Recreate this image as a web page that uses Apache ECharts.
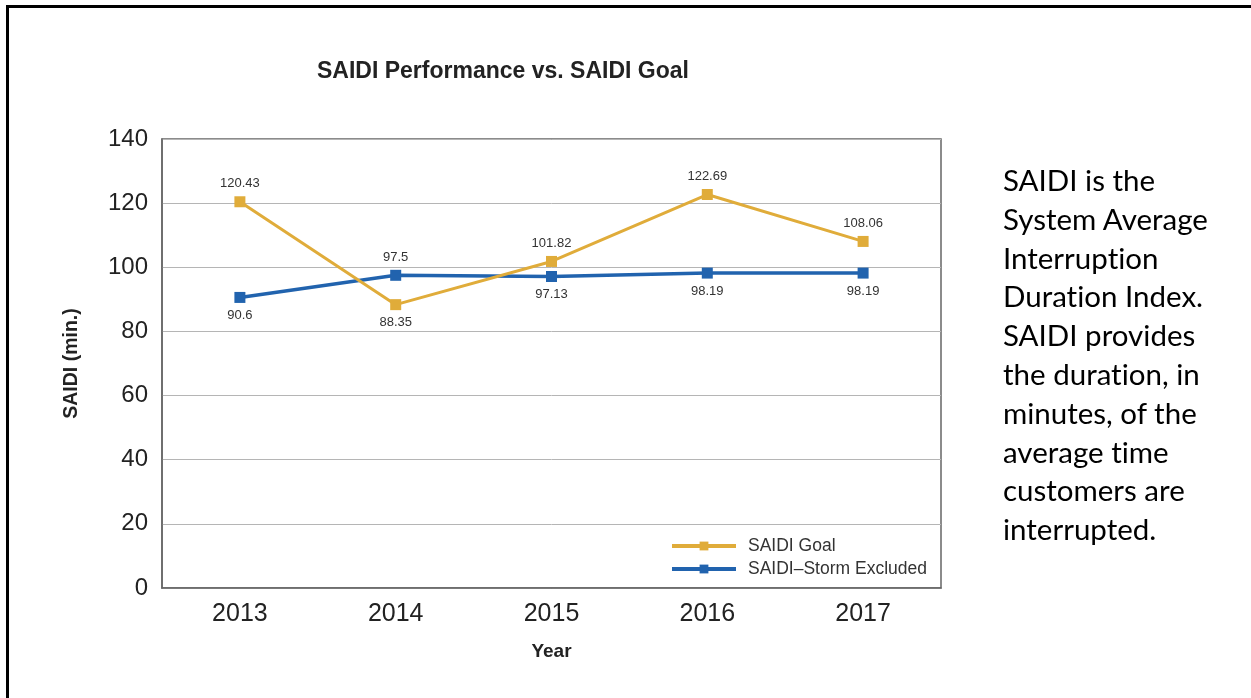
<!DOCTYPE html>
<html>
<head>
<meta charset="utf-8">
<script src="https://cdn.jsdelivr.net/npm/echarts@6/dist/echarts.min.js"></script>
<style>
  html, body { margin: 0; padding: 0; background: #fff; overflow: hidden; }
  #frame { position: absolute; left: 6px; top: 5px; width: 1300px; height: 800px; border: 3px solid #000; }
  #chart { position: absolute; left: 0; top: 0; width: 1251px; height: 698px; }
  #note { position: absolute; left: 1003px; top: 161px; font-family: Lato, 'Open Sans', sans-serif; font-size: 29.5px; line-height: 38.8px; color: #000; font-variant-ligatures: none; }
</style>
</head>
<body>
<div id="frame"></div>
<div id="chart"></div>
<div id="note">SAIDI is the<br>System Average<br>Interruption<br>Duration Index.<br>SAIDI provides<br>the duration, in<br>minutes, of the<br>average time<br>customers are<br>interrupted.</div>
<script>
var years = ['2013', '2014', '2015', '2016', '2017'];
var goalValues = [120.43, 88.35, 101.82, 122.69, 108.06];
var stormExcludedValues = [90.6, 97.5, 97.13, 98.19, 98.19];

var FONT = "'Liberation Sans', Arial, sans-serif";

// label sits above the point when this series is the higher one at that year
function withLabels(vals, other) {
    return vals.map(function (v, i) {
        return { value: v, label: { position: v > other[i] ? 'top' : 'bottom' } };
    });
}

var chart = echarts.init(document.getElementById('chart'));
var option = {
    animation: false,
    title: {
        text: 'SAIDI Performance vs. SAIDI Goal',
        left: 312,
        top: 55,
        textStyle: { fontFamily: FONT, fontSize: 23, fontWeight: 'bold', color: '#222' }
    },
    legend: {
        orient: 'vertical',
        left: 665,
        top: 532,
        itemWidth: 64,
        itemHeight: 11,
        itemGap: 5,
        lineStyle: { width: 4 },
        textStyle: { fontFamily: FONT, fontSize: 17.5, color: '#333', padding: [0, 0, 0, 7] },
        data: ['SAIDI Goal', 'SAIDI\u2013Storm Excluded']
    },
    grid: {
        left: 162, right: 310, top: 139, bottom: 110,
        show: true, borderColor: '#666', borderWidth: 1.5
    },
    xAxis: {
        type: 'category',
        data: years,
        name: 'Year',
        nameLocation: 'middle',
        nameGap: 54,
        nameTextStyle: { fontFamily: FONT, fontSize: 19, fontWeight: 'bold', color: '#222' },
        axisLine: { lineStyle: { color: '#666', width: 1.5 } },
        axisTick: { show: false },
        axisLabel: { fontFamily: FONT, fontSize: 25, color: '#222', margin: 14 }
    },
    yAxis: {
        type: 'value',
        min: 0,
        max: 140,
        interval: 20,
        name: 'SAIDI (min.)',
        nameLocation: 'middle',
        nameGap: 80,
        nameTextStyle: { fontFamily: FONT, fontSize: 19.5, fontWeight: 'bold', color: '#222' },
        axisLine: { show: true, lineStyle: { color: '#666', width: 1.5 } },
        axisTick: { show: false },
        axisLabel: { fontFamily: FONT, fontSize: 24, color: '#222', margin: 14 },
        splitLine: { lineStyle: { color: '#b5b5b5', width: 1 } }
    },
    series: [
        {
            name: 'SAIDI Goal',
            type: 'line',
            data: withLabels(goalValues, stormExcludedValues),
            symbol: 'rect',
            symbolSize: 11,
            color: '#E0AC3A',
            lineStyle: { width: 3 },
            label: { show: true, fontFamily: FONT, fontSize: 13, color: '#333', distance: 6 },
            z: 3
        },
        {
            name: 'SAIDI\u2013Storm Excluded',
            type: 'line',
            data: withLabels(stormExcludedValues, goalValues),
            symbol: 'rect',
            symbolSize: 11,
            color: '#2163AE',
            lineStyle: { width: 3.5 },
            label: { show: true, fontFamily: FONT, fontSize: 13, color: '#333', distance: 6 },
            z: 2
        }
    ]
};
chart.setOption(option);
</script>
</body>
</html>
